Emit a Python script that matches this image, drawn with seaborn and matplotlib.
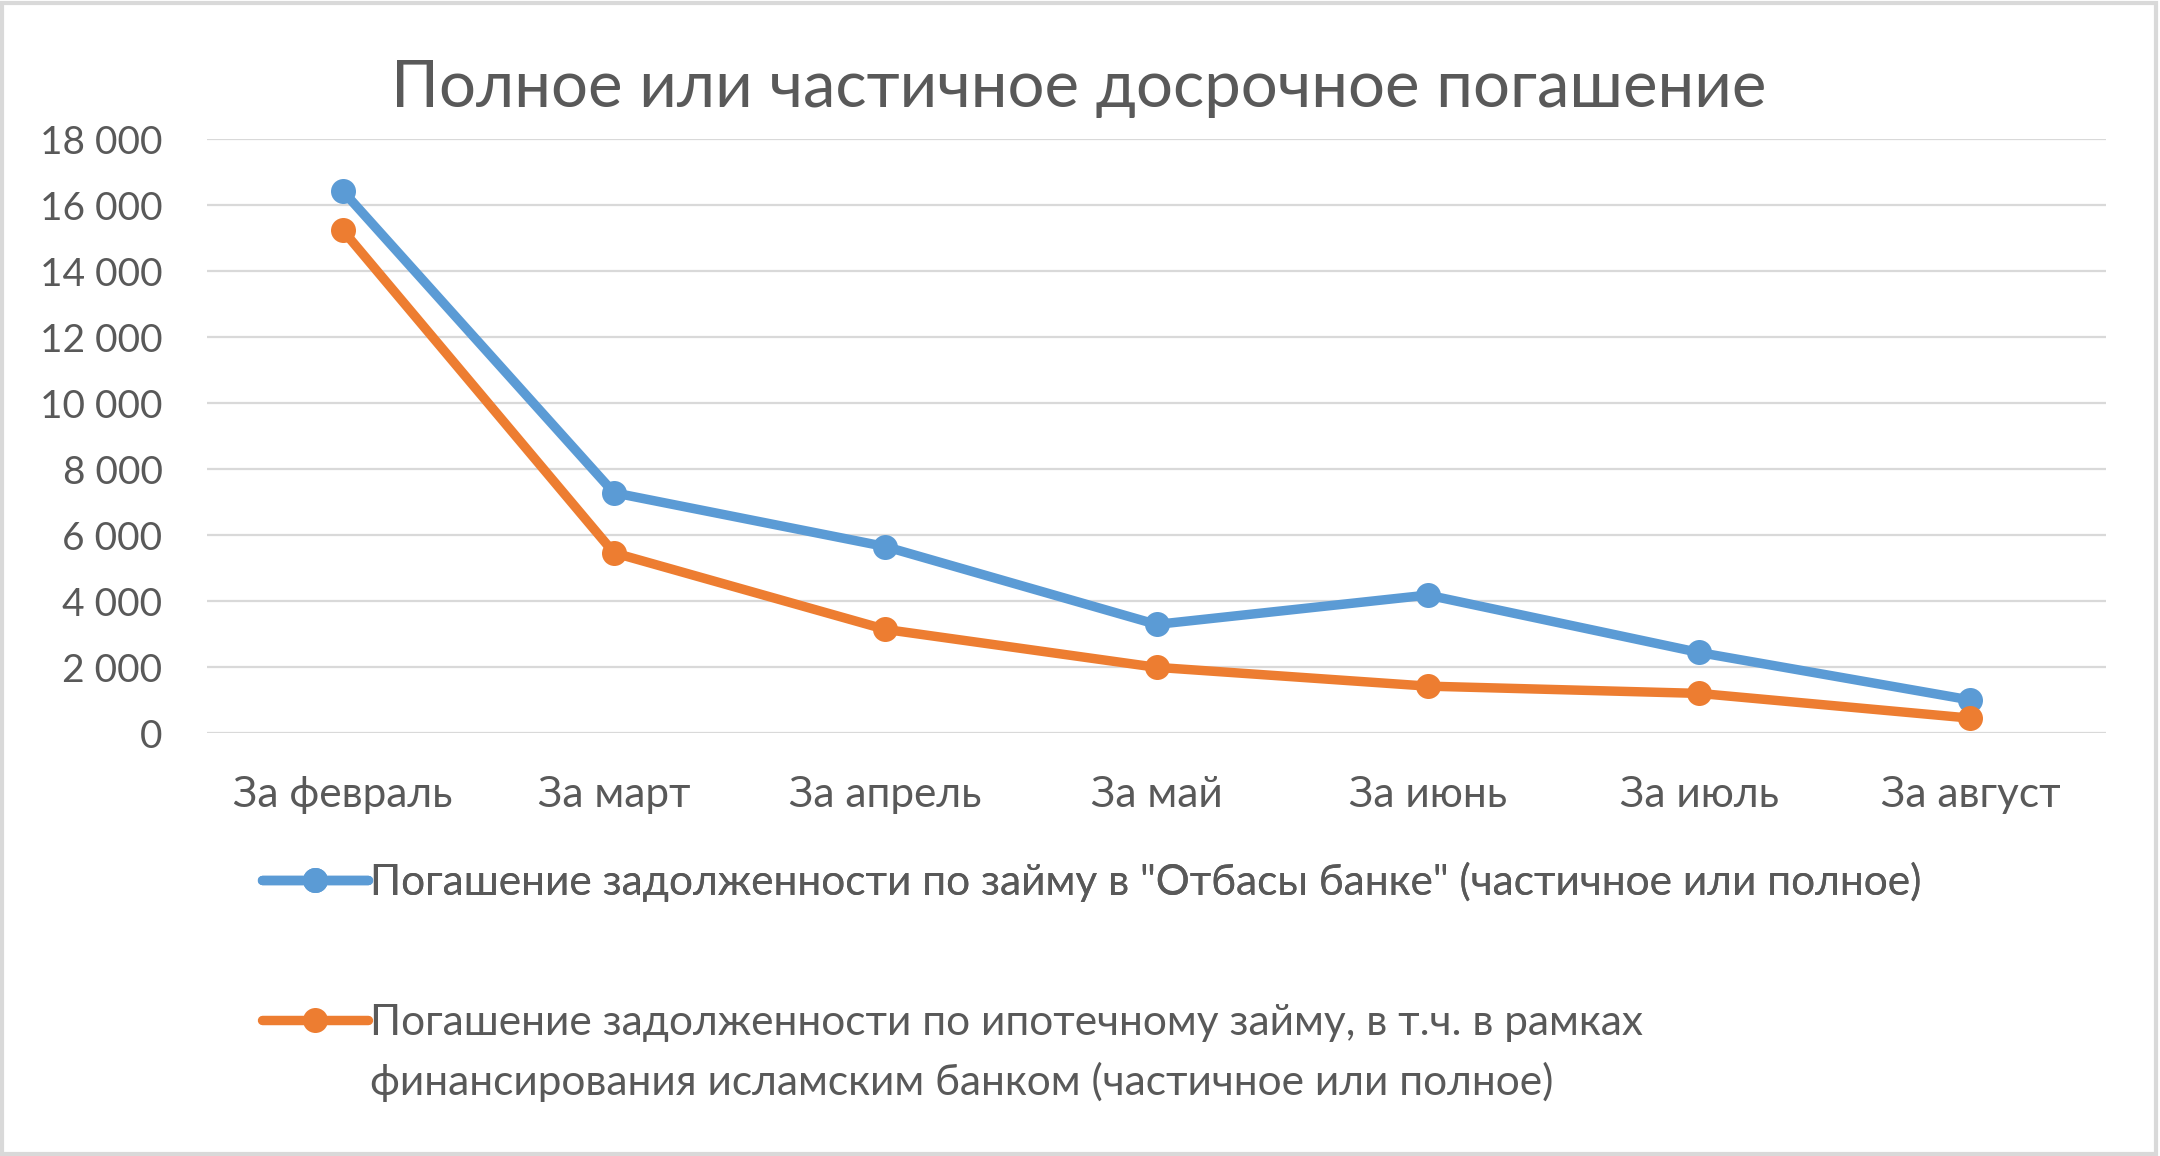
import matplotlib
matplotlib.use("Agg")
import matplotlib.pyplot as plt
import seaborn as sns
import pandas as pd
from matplotlib.lines import Line2D
from matplotlib.patches import Rectangle
from matplotlib.ticker import FuncFormatter

# ---- data ----
months = ["За февраль", "За март", "За апрель", "За май", "За июнь", "За июль", "За август"]
otbasy = [16430, 7280, 5650, 3290, 4180, 2440, 1000]
mortgage = [15240, 5460, 3140, 1990, 1420, 1200, 450]
series_names = [
    'Погашение задолженности по займу в "Отбасы банке" (частичное или полное)',
    'Погашение задолженности по ипотечному займу, в т.ч. в рамках',
]
series2_line2 = "финансирования исламским банком (частичное или полное)"
yticks = [0, 2000, 4000, 6000, 8000, 10000, 12000, 14000, 16000, 18000]
title = "Полное или частичное досрочное погашение"
colors = ["#5B9BD5", "#ED7D31"]

sns.set_theme(style="white")
plt.rcParams["font.family"] = ["Lato", "DejaVu Sans"]
TXT = "#595959"
FS_Y = 28
FS_X = 30.5
FS_LEG = 30.5

W, H = 2160, 1156
fig = plt.figure(figsize=(W / 100, H / 100), dpi=100)
fig.patch.set_facecolor("white")

ax = fig.add_axes([207 / W, 1 - 733 / H, (2106 - 207) / W, (733 - 139) / H])

df = pd.DataFrame({
    "Месяц": months * 2,
    "Значение": otbasy + mortgage,
    "Серия": [series_names[0]] * len(months) + [series_names[1]] * len(months),
})
sns.lineplot(data=df, x="Месяц", y="Значение", hue="Серия", palette=colors,
             marker="o", markersize=18, markeredgewidth=0, linewidth=6.8,
             sort=False, ax=ax, legend=False)

ax.set_xlim(-0.5, len(months) - 0.5)
ax.set_ylim(0, 18000)
ax.set_yticks(yticks)
ax.yaxis.set_major_formatter(FuncFormatter(lambda v, p: f"{int(v):,}".replace(",", " ")))
ax.set_xlabel("")
ax.set_ylabel("")
for s in ax.spines.values():
    s.set_visible(False)
ax.yaxis.grid(True, color="#d9d9d9", linewidth=1.6)
ax.xaxis.grid(False)
ax.set_axisbelow(True)
ax.tick_params(axis="both", length=0, labelcolor=TXT)
ax.tick_params(axis="y", pad=32, labelsize=FS_Y)
ax.tick_params(axis="x", pad=31, labelsize=FS_X)

fig.text(1079 / W, 1 - 89 / H, title, ha="center", va="center",
         fontsize=47, color=TXT)

handles = [Line2D([], [], color=c, lw=6.8, marker="o", ms=18, mew=0) for c in colors]
leg1 = fig.legend(handles=[handles[0]], labels=[series_names[0]], loc="center left",
                  bbox_to_anchor=(262 / W, 1 - 882 / H), frameon=False,
                  handlelength=2.5, handletextpad=0.05, borderpad=0, borderaxespad=0,
                  fontsize=FS_LEG, labelcolor=TXT)
leg2 = fig.legend(handles=[handles[1]], labels=[series_names[1]], loc="center left",
                  bbox_to_anchor=(262 / W, 1 - 1023 / H), frameon=False,
                  handlelength=2.5, handletextpad=0.05, borderpad=0, borderaxespad=0,
                  fontsize=FS_LEG, labelcolor=TXT)
fig.add_artist(leg1)

fig.canvas.draw()
bb = leg2.get_texts()[0].get_window_extent()
fig.text(bb.x0 / W, 1 - 1082 / H, series2_line2, ha="left", va="center",
         fontsize=FS_LEG, color=TXT)

fig.patches.append(Rectangle((0.001, 0.002), 0.997, 0.995, transform=fig.transFigure,
                             fill=False, edgecolor="#d9d9d9", linewidth=3))

fig.savefig("out.png", dpi=100, facecolor="white")
